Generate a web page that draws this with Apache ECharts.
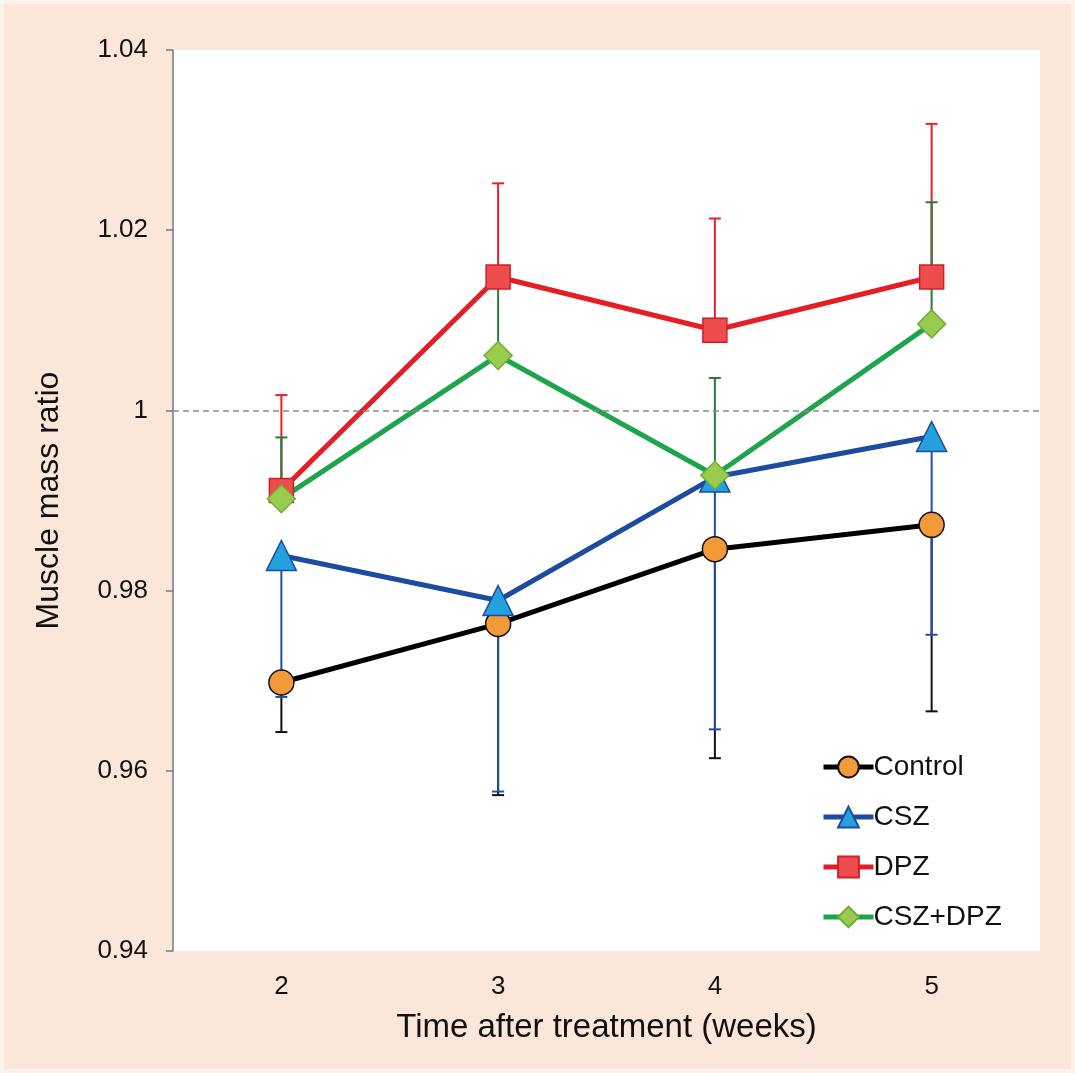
<!DOCTYPE html>
<html>
<head>
<meta charset="utf-8">
<script src="https://cdn.jsdelivr.net/npm/echarts@6/dist/echarts.min.js"></script>
<style>
  html, body { margin: 0; padding: 0; background: #fbe7da; }
  #chart { width: 1075px; height: 1073px; }
</style>
</head>
<body>
<div id="chart"></div>
<script>
// Weeks after treatment
const weeks = ['2', '3', '4', '5']

// Means
const control = [0.9698, 0.9763, 0.9846, 0.9873]
const csz = [0.9839, 0.9789, 0.9926, 0.9971]
const dpz = [0.9911, 1.0148, 1.0089, 1.0148]
const cszDpz = [0.9902, 1.0061, 0.9928, 1.0096]

// One-sided error bar ends
const controlLow = [0.9643, 0.9573, 0.9614, 0.9666]
const cszLow = [0.9682, 0.9577, 0.9646, 0.9751]
const dpzHigh = [1.0017, 1.0252, 1.0213, 1.0318]
const cszDpzHigh = [0.9970, 1.0145, 1.0036, 1.0231]

const font = 'Liberation Sans, Arial, sans-serif'

const errData = (mean, end) => mean.map((v, i) => [i, v, end[i]])

const errSeries = (name, mean, end, color) => ({
	type: 'custom',
	name: name + ' err',
	z: 1,
	silent: true,
	data: errData(mean, end),
	renderItem: (params, api) => {
		const p0 = api.coord([api.value(0), api.value(1)])
		const p1 = api.coord([api.value(0), api.value(2)])
		const style = { stroke: color, lineWidth: 2 }
		return {
			type: 'group',
			children: [
				{ type: 'line', shape: { x1: p0[0], y1: p0[1], x2: p1[0], y2: p1[1] }, style },
				{ type: 'line', shape: { x1: p1[0] - 6, y1: p1[1], x2: p1[0] + 6, y2: p1[1] }, style }
			]
		}
	}
})

const lineSeries = (name, data, lineColor, symbol, size, fill, border) => ({
	type: 'line',
	name,
	data,
	z: 3,
	symbol,
	symbolSize: size,
	showAllSymbol: true,
	lineStyle: { color: lineColor, width: 5 },
	itemStyle: { color: fill, borderColor: border, borderWidth: 1.5 }
})

echarts.init(document.getElementById('chart')).setOption({
	backgroundColor: '#fbe7da',
	animation: false,
	graphic: [{
		type: 'rect',
		silent: true,
		shape: { x: 0, y: 0, width: 1075, height: 1073 },
		style: { fill: 'none', stroke: '#fdf2ea', lineWidth: 8 }
	}],
	grid: {
		left: 173,
		right: 35,
		top: 50,
		bottom: 122,
		show: true,
		backgroundColor: '#ffffff',
		borderWidth: 0
	},
	legend: {
		orient: 'vertical',
		left: 816,
		top: 748,
		itemGap: 22,
		itemWidth: 50,
		itemHeight: 26,
		lineStyle: { width: 5 },
		textStyle: { fontFamily: font, fontSize: 28, color: '#111', padding: [0, 0, 0, -5] },
		data: ['Control', 'CSZ', 'DPZ', 'CSZ+DPZ']
	},
	xAxis: {
		type: 'category',
		data: weeks,
		name: 'Time after treatment (weeks)',
		nameLocation: 'middle',
		nameGap: 60,
		nameTextStyle: { fontFamily: font, fontSize: 33, color: '#111' },
		axisLine: { show: false },
		axisTick: { show: false },
		axisLabel: { fontFamily: font, fontSize: 26, color: '#111', margin: 23 }
	},
	yAxis: {
		type: 'value',
		min: 0.94,
		max: 1.04,
		interval: 0.02,
		name: 'Muscle mass ratio',
		nameLocation: 'middle',
		nameGap: 108,
		nameTextStyle: { fontFamily: font, fontSize: 32, color: '#111' },
		axisLine: { show: true, lineStyle: { color: '#7a7a7a', width: 1.5 } },
		axisTick: { show: true, length: 7, lineStyle: { color: '#7a7a7a', width: 1.5 } },
		axisLabel: { fontFamily: font, fontSize: 26, color: '#111', margin: 25, formatter: v => String(+v.toFixed(2)) },
		splitLine: { show: false }
	},
	series: [
		errSeries('Control', control, controlLow, '#111111'),
		errSeries('CSZ', csz, cszLow, '#1f4fa0'),
		errSeries('DPZ', dpz, dpzHigh, '#e52228'),
		errSeries('CSZ+DPZ', cszDpz, cszDpzHigh, '#2a7a3a'),
		{
			...lineSeries('Control', control, '#000000', 'circle', 25, '#f39a38', '#111111'),
			markLine: {
				silent: true,
				symbol: 'none',
				label: { show: false },
				lineStyle: { color: '#8a8a8a', type: [6, 4], width: 1.5 },
				data: [{ yAxis: 1 }]
			}
		},
		lineSeries('CSZ', csz, '#1c4ba0', 'triangle', 30, '#24a0de', '#1c4ba0'),
		lineSeries('DPZ', dpz, '#e31e24', 'rect', 24, '#ee4c4d', '#d11f28'),
		lineSeries('CSZ+DPZ', cszDpz, '#1ea54c', 'diamond', 28, '#9bcb4c', '#70ac3e')
	]
})
</script>
</body>
</html>
